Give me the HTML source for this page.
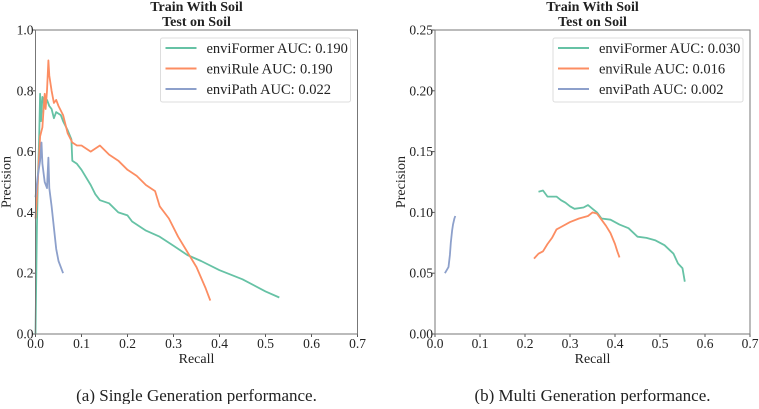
<!DOCTYPE html>
<html><head><meta charset="utf-8"><style>
body{margin:0;background:#fff;}
svg text{font-family:"Liberation Serif","DejaVu Serif",serif;fill:#222;}
</style></head><body>
<svg id="s" width="759" height="404"></svg>
<script>
const xTicks=[0,0.1,0.2,0.3,0.4,0.5,0.6,0.7];
const yTicksA=[0,0.2,0.4,0.6,0.8,1.0];
const yTicksB=[0,0.05,0.10,0.15,0.20,0.25];
const seriesNames=["enviFormer","enviRule","enviPath"];
const aucA=["0.190","0.190","0.022"];
const aucB=["0.030","0.016","0.002"];
const aFormerX=[0,0.003,0.005,0.008,0.01,0.012,0.015,0.02,0.025,0.03,0.035,0.04,0.045,0.055,0.06,0.07,0.078,0.08,0.09,0.1,0.12,0.13,0.14,0.16,0.18,0.2,0.21,0.24,0.27,0.3,0.33,0.36,0.4,0.45,0.5,0.53];
const aFormerY=[0,0.35,0.5,0.65,0.79,0.7,0.78,0.75,0.77,0.75,0.74,0.71,0.73,0.72,0.7,0.67,0.64,0.57,0.56,0.54,0.49,0.46,0.44,0.43,0.4,0.39,0.37,0.34,0.32,0.29,0.26,0.24,0.21,0.18,0.14,0.12];
const aRuleX=[0,0.005,0.01,0.015,0.018,0.02,0.022,0.025,0.028,0.03,0.035,0.04,0.045,0.05,0.06,0.07,0.08,0.09,0.1,0.12,0.14,0.16,0.18,0.2,0.22,0.24,0.26,0.27,0.29,0.31,0.33,0.35,0.37,0.38];
const aRuleY=[0.38,0.5,0.65,0.68,0.75,0.79,0.74,0.8,0.9,0.85,0.8,0.76,0.77,0.75,0.72,0.66,0.63,0.62,0.62,0.6,0.62,0.59,0.57,0.54,0.52,0.49,0.47,0.42,0.38,0.32,0.27,0.22,0.15,0.11];
const aPathX=[0,0.005,0.01,0.013,0.015,0.02,0.025,0.028,0.03,0.035,0.04,0.045,0.05,0.055,0.06];
const aPathY=[0.45,0.52,0.57,0.63,0.56,0.5,0.48,0.58,0.48,0.42,0.35,0.28,0.24,0.22,0.2];
const bFormerX=[0.23,0.24,0.25,0.27,0.28,0.29,0.3,0.31,0.33,0.34,0.35,0.36,0.37,0.39,0.41,0.43,0.45,0.47,0.49,0.51,0.53,0.54,0.55,0.555];
const bFormerY=[0.117,0.118,0.113,0.113,0.11,0.108,0.105,0.103,0.104,0.106,0.103,0.1,0.095,0.094,0.09,0.087,0.08,0.079,0.077,0.073,0.066,0.058,0.054,0.043];
const bRuleX=[0.22,0.23,0.24,0.25,0.26,0.27,0.28,0.3,0.32,0.34,0.35,0.36,0.37,0.38,0.39,0.4,0.405,0.41];
const bRuleY=[0.062,0.066,0.068,0.074,0.079,0.086,0.088,0.092,0.095,0.097,0.1,0.099,0.094,0.089,0.083,0.074,0.068,0.063];
const bPathX=[0.022,0.025,0.03,0.033,0.035,0.038,0.04,0.043,0.045];
const bPathY=[0.05,0.052,0.055,0.065,0.075,0.085,0.09,0.095,0.097];

const NS="http://www.w3.org/2000/svg";
const svg=document.getElementById('s');
const colors=["#66c2a5","#fc8d62","#8da0cb"];
function mk(tag,attrs,parent,text){const e=document.createElementNS(NS,tag);for(const k in attrs)e.setAttribute(k,attrs[k]);if(text!==undefined)e.textContent=text;(parent||svg).appendChild(e);return e;}

function panel(id,x0,x1,yMax,yTicks,yFmt,data,aucs,caption){
  const y0=334,y1=30;
  const g=mk('g',{});
  
  
  const sx=v=>x0+(x1-x0)*v/0.7;
  const sy=v=>y0-(y0-y1)*v/yMax;
  const cx=(x0+x1)/2;
  const t1=mk('text',{x:cx,y:11,'text-anchor':'middle','font-size':14,'font-weight':'bold'},g,'Train With Soil');
  
  
  const t2=mk('text',{x:cx,y:26,'text-anchor':'middle','font-size':14,'font-weight':'bold'},g,'Test on Soil');
  
  
  xTicks.forEach(v=>{
    mk('line',{x1:sx(v),x2:sx(v),y1:y0,y2:y0+3,stroke:'#555'},g);
    const l=mk('text',{x:sx(v),y:348,'text-anchor':'middle','font-size':13.5},g,v.toFixed(1));
    
    
  });
  yTicks.forEach(v=>{
    mk('line',{x1:x0-3,x2:x0,y1:sy(v),y2:sy(v),stroke:'#555'},g);
    const l=mk('text',{x:x0-2,y:sy(v)+4.5,'text-anchor':'end','font-size':13.5},g,v.toFixed(yFmt));
    
    
  });
  const xl=mk('text',{x:cx,y:363,'text-anchor':'middle','font-size':14},g,'Recall');
  
  
  const yx=x0-(yFmt===1?25:30);
  const yl=mk('text',{x:yx,y:(y0+y1)/2,'text-anchor':'middle','font-size':14,transform:`rotate(-90 ${yx} ${(y0+y1)/2})`},g,'Precision');
  
  
  data.forEach((d,i)=>{
    const pts=d[0].map((x,j)=>sx(x).toFixed(1)+','+sy(d[1][j]).toFixed(1)).join(' ');
    const p=mk('polyline',{points:pts,fill:'none',stroke:colors[i],'stroke-width':1.8,'stroke-linejoin':'round'},g);
    
    
  });
  const fr=mk('rect',{x:x0,y:y1,width:x1-x0,height:y0-y1,fill:'none',stroke:'#777','stroke-width':1},g);
  
  
  const lx=x1-197;
  const lg=mk('g',{},g);
  
  
  mk('rect',{x:lx,y:38,width:190,height:64,rx:2,fill:'#fff',stroke:'#ddd'},lg);
  seriesNames.forEach((n,i)=>{
    const y=48+i*20.5;
    const e=mk('g',{},lg);
    
    
    mk('line',{x1:lx+5,x2:lx+36,y1:y,y2:y,stroke:colors[i],'stroke-width':2},e);
    mk('text',{x:lx+46,y:y+5,'font-size':14.5},e,n+' AUC: '+aucs[i]);
  });
  const c=mk('text',{x:cx,y:401,'text-anchor':'middle','font-size':17},g,caption);
  
  
}
panel('single',35.5,357.5,1.0,yTicksA,1,[[aFormerX,aFormerY],[aRuleX,aRuleY],[aPathX,aPathY]],aucA,'(a) Single Generation performance.');
panel('multi',435,750,0.25,yTicksB,2,[[bFormerX,bFormerY],[bRuleX,bRuleY],[bPathX,bPathY]],aucB,'(b) Multi Generation performance.');
</script>
</body></html>
